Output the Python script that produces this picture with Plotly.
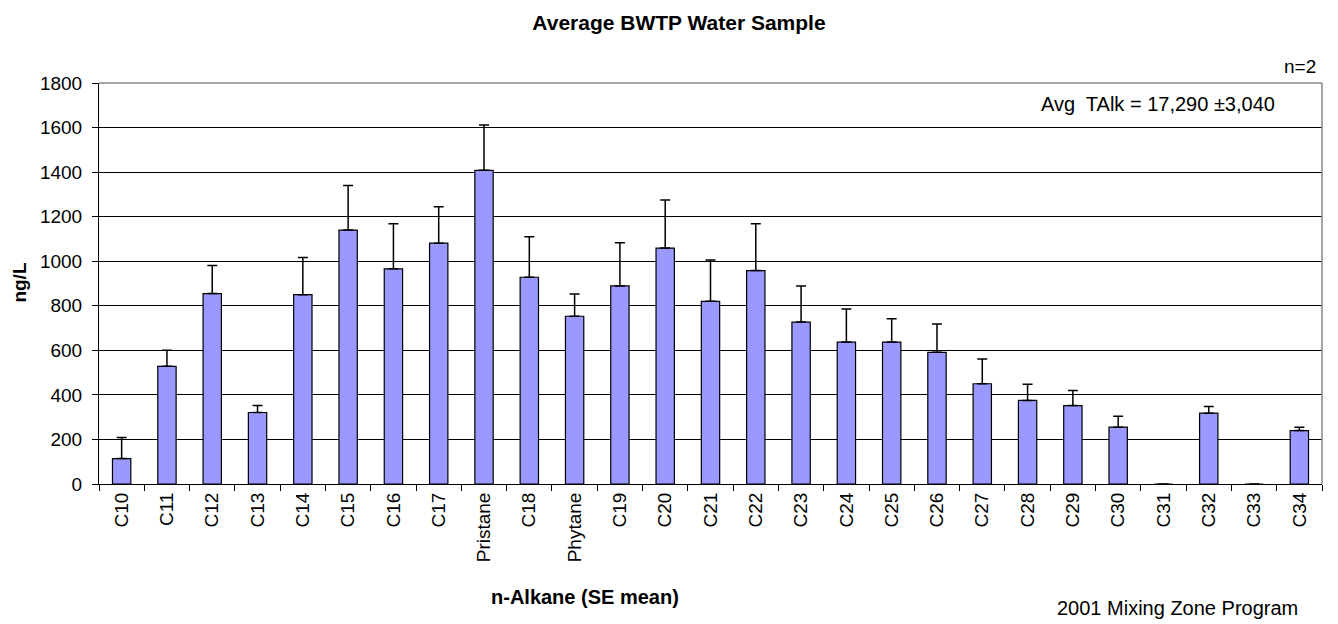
import plotly.graph_objects as go

categories = ["C10", "C11", "C12", "C13", "C14", "C15", "C16", "C17", "Pristane", "C18",
              "Phytane", "C19", "C20", "C21", "C22", "C23", "C24", "C25", "C26", "C27",
              "C28", "C29", "C30", "C31", "C32", "C33", "C34"]
mean_ngL = [114, 528, 855, 321, 850, 1140, 966, 1081, 1408, 928,
            753, 889, 1059, 820, 958, 727, 637, 637, 591, 450,
            375, 352, 255, 0, 318, 0, 240]
se_ngL = [95, 72, 126, 31, 167, 200, 202, 164, 204, 182,
          100, 194, 216, 185, 210, 162, 149, 105, 127, 111,
          73, 68, 49, 0, 30, 0, 15]
y_ticks = [0, 200, 400, 600, 800, 1000, 1200, 1400, 1600, 1800]

FONT = "Liberation Sans, Arial, sans-serif"

fig = go.Figure(go.Bar(
    x=categories, y=mean_ngL,
    marker=dict(color="#9999FF", line=dict(color="black", width=1.2)),
    error_y=dict(type="data", array=se_ngL, arrayminus=[0] * len(se_ngL),
                 symmetric=False, color="black", thickness=1.5, width=5),
))

fig.update_layout(
    width=1330, height=616,
    margin=dict(l=91, r=16, t=75, b=140),
    paper_bgcolor="white", plot_bgcolor="white",
    bargap=0.595, showlegend=False,
    font=dict(family=FONT, size=19, color="black"),
    title=dict(text="<b>Average BWTP Water Sample</b>", x=0.5045, xanchor="center",
               y=0.977, yanchor="middle", font=dict(size=21, family=FONT)),
    xaxis=dict(type="category", tickangle=-90, tickson="boundaries",
               ticks="outside", ticklen=6, tickcolor="black", tickwidth=1,
               showline=True, linecolor="black", linewidth=1,
               showgrid=False, tickfont=dict(size=19, family=FONT)),
    yaxis=dict(range=[0, 1800], tickvals=y_ticks, ticks="outside", ticklen=6,
               tickcolor="black", showline=True, linecolor="black", linewidth=1,
               showgrid=True, gridcolor="black", gridwidth=1, zeroline=False,
               ticklabelstandoff=6,
               tickfont=dict(size=19, family=FONT)),
    shapes=[
        dict(type="line", xref="paper", yref="paper", x0=0, x1=1, y0=1, y1=1,
             line=dict(color="#888888", width=1.5)),
        dict(type="line", xref="paper", yref="paper", x0=1, x1=1, y0=0, y1=1,
             line=dict(color="#888888", width=1.5)),
    ],
    annotations=[
        dict(text="<b>n-Alkane (SE mean)</b>", xref="paper", yref="paper", x=0.397, y=-0.282,
             xanchor="center", yanchor="middle", showarrow=False, font=dict(size=20, family=FONT)),
        dict(text="<b>ng/L</b>", xref="paper", yref="paper", x=-0.065, y=0.501, textangle=-90,
             xanchor="center", yanchor="middle", showarrow=False, font=dict(size=19, family=FONT)),
        dict(text="n=2", xref="paper", yref="paper", x=0.997, y=1.042, xanchor="right",
             yanchor="middle", showarrow=False, font=dict(size=19, family=FONT)),
        dict(text="Avg  TAlk = 17,290 ±3,040", xref="paper", yref="paper", x=0.963, y=0.948,
             xanchor="right", yanchor="middle", showarrow=False, font=dict(size=20, family=FONT)),
        dict(text="2001 Mixing Zone Program", xref="paper", yref="paper", x=0.982, y=-0.309,
             xanchor="right", yanchor="middle", showarrow=False, font=dict(size=20, family=FONT)),
    ],
)

fig.write_html("out.html")
